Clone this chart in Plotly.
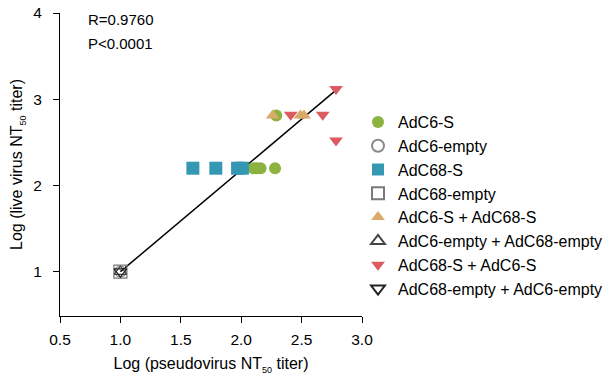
import plotly.graph_objects as go

# Log10 neutralising titres: pseudovirus (x) vs live virus (y)
groups = [
    "AdC6-S",
    "AdC6-empty",
    "AdC68-S",
    "AdC68-empty",
    "AdC6-S + AdC68-S",
    "AdC6-empty + AdC68-empty",
    "AdC68-S + AdC6-S",
    "AdC68-empty + AdC6-empty",
]

adc6_s_x = [2.10, 2.13, 2.16, 2.28, 2.29]
adc6_s_y = [2.20, 2.20, 2.20, 2.20, 2.81]
adc6_empty_x = [1.0]
adc6_empty_y = [1.0]
adc68_s_x = [1.60, 1.79, 1.97, 2.01]
adc68_s_y = [2.20, 2.20, 2.20, 2.20]
adc68_empty_x = [1.0]
adc68_empty_y = [1.0]
prime_boost_x = [2.26, 2.49, 2.52]
prime_boost_y = [2.81, 2.81, 2.81]
empty_boost_x = [1.0]
empty_boost_y = [1.0]
reverse_boost_x = [2.41, 2.675, 2.785, 2.785]
reverse_boost_y = [2.82, 2.82, 3.12, 2.52]
reverse_empty_x = [1.0]
reverse_empty_y = [1.0]

# regression line end points
fit_x = [1.0, 2.78]
fit_y = [1.0, 3.10]

r_text = "R=0.9760"
p_text = "P<0.0001"

x_ticks = [0.5, 1.0, 1.5, 2.0, 2.5, 3.0]
y_ticks = [1, 2, 3, 4]

FONT = "Liberation Sans, Arial, Helvetica, sans-serif"
W, H = 615, 377
SUB50 = "<sub><span style='font-size:9px'>50</span></sub>"

series = [
    (adc6_s_x, adc6_s_y, "circle", "#8cb23f", 12),
    (adc6_empty_x, adc6_empty_y, "circle-open", "#8a8a8a", 11),
    (adc68_s_x, adc68_s_y, "square", "#3598b3", 13),
    (adc68_empty_x, adc68_empty_y, "square-open", "#7a7a7a", 13),
    (prime_boost_x, prime_boost_y, "triangle-up", "#d9aa6b", 12),
    (empty_boost_x, empty_boost_y, "triangle-up-open", "#444444", 11),
    (reverse_boost_x, reverse_boost_y, "triangle-down", "#dc5a62", 12),
    (reverse_empty_x, reverse_empty_y, "triangle-down-open", "#222222", 11),
]

fig = go.Figure()

fig.add_trace(go.Scatter(
    x=fit_x, y=fit_y, mode="lines",
    line=dict(color="black", width=1.5),
    showlegend=False, hoverinfo="skip",
))

for i, (xs, ys, sym, col, sz) in enumerate(series):
    is_open = sym.endswith("open")
    fig.add_trace(go.Scatter(
        x=xs, y=ys, mode="markers", name=groups[i],
        legendgroup=groups[i],
        marker=dict(
            symbol=sym, size=sz, color=col,
            line=dict(color=col, width=1.2 if is_open else 0),
        ),
    ))

for txt, dy in ((r_text, -6), (p_text, -30)):
    fig.add_annotation(x=0, y=1, xref="paper", yref="paper", xanchor="left",
                       yanchor="middle", xshift=26, yshift=dy, text=txt,
                       showarrow=False,
                       font=dict(size=15, color="black", family=FONT))

axis_common = dict(
    showgrid=False, zeroline=False, showline=True, linecolor="black",
    linewidth=1, ticks="outside", ticklen=6, tickwidth=1, tickcolor="black",
    tickfont=dict(size=15.5, color="black", family=FONT),
)

fig.update_xaxes(
    range=[0.5, 3.0], tickvals=x_ticks,
    ticktext=[f"{v:.1f}" for v in x_ticks],
    ticklabelstandoff=3,
    title=dict(text=f"Log (pseudovirus NT{SUB50} titer)",
               font=dict(size=16, color="black", family=FONT), standoff=11),
    **axis_common,
)
fig.update_yaxes(
    range=[0.486, 4.0], tickvals=y_ticks,
    ticklabelstandoff=8,
    title=dict(text=f"Log (live virus NT{SUB50} titer)",
               font=dict(size=16, color="black", family=FONT), standoff=6),
    **axis_common,
)

fig.update_layout(
    width=W, height=H,
    margin=dict(l=60, r=253, t=13, b=61, autoexpand=False),
    paper_bgcolor="white", plot_bgcolor="white",
    font=dict(family=FONT, size=16, color="black"),
    legend=dict(
        xref="container", x=358 / W, xanchor="left",
        yref="container", y=1 - 105 / H, yanchor="top",
        font=dict(size=16, color="black", family=FONT),
        tracegroupgap=0, itemsizing="constant", maxheight=H,
        bgcolor="rgba(0,0,0,0)",
    ),
)

fig.write_html("out.html")
